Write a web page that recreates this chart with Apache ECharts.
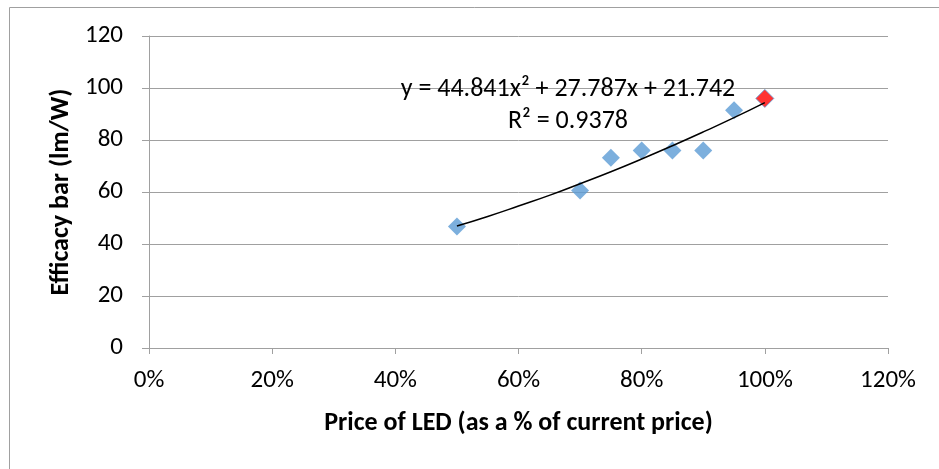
<!DOCTYPE html>
<html><head><meta charset="utf-8">
<script src="https://cdn.jsdelivr.net/npm/echarts@6/dist/echarts.min.js"></script>
<style>html,body{margin:0;padding:0;background:#fff}#c{width:939px;height:469px}</style>
</head><body><div id="c"></div>
<script>
// Data
var priceShare = [0.50, 0.70, 0.75, 0.80, 0.85, 0.90, 0.95];
var efficacy = [46.7, 60.6, 73.2, 76.0, 76.0, 76.0, 91.4];
var currentPrice = [1.00];
var currentEfficacy = [96.0];
var trendX = [0.50, 0.55, 0.60, 0.65, 0.70, 0.75, 0.80, 0.85, 0.90, 0.95, 1.00];
var trendY = [46.9, 50.6, 54.6, 58.7, 63.2, 67.8, 72.7, 77.8, 83.1, 88.6, 94.4];
var xTicks = [0, 0.2, 0.4, 0.6, 0.8, 1.0, 1.2];
var yTicks = [0, 20, 40, 60, 80, 100, 120];
var equationText = 'y = 44.841x\u00B2 + 27.787x + 21.742';
var r2Text = 'R\u00B2 = 0.9378';
var xTitle = 'Price of LED (as a % of current price)';
var yTitle = 'Efficacy bar (lm/W)';

var FONT = 'Carlito, Calibri, "Liberation Sans Narrow", "Open Sans", sans-serif';
function zip(a, b) { return a.map(function (v, i) { return [v, b[i]]; }); }

var chart = echarts.init(document.getElementById('c'), null, {renderer: 'canvas'});
chart.setOption({
  animation: false,
  backgroundColor: '#fff',
  textStyle: {fontFamily: FONT},
  grid: {left: 149, right: 51, top: 36, bottom: 121, containLabel: false},
  xAxis: {
    type: 'value', min: xTicks[0], max: xTicks[xTicks.length - 1], interval: 0.2,
    name: xTitle, nameLocation: 'middle', nameGap: 62,
    nameTextStyle: {fontFamily: FONT, fontSize: 26, fontWeight: 'bold', color: '#000'},
    axisLine: {show: true, lineStyle: {color: '#a0a0a0', width: 1}},
    axisTick: {show: true, length: 6, lineStyle: {color: '#a0a0a0'}},
    axisLabel: {fontFamily: FONT, fontSize: 25, color: '#000', margin: 20,
      formatter: function (v) { return Math.round(v * 100) + '%'; }},
    splitLine: {show: false}
  },
  yAxis: {
    type: 'value', min: yTicks[0], max: yTicks[yTicks.length - 1], interval: 20,
    name: yTitle, nameLocation: 'middle', nameGap: 75, nameRotate: 90,
    nameTextStyle: {fontFamily: FONT, fontSize: 26, fontWeight: 'bold', color: '#000'},
    axisLine: {show: true, lineStyle: {color: '#a0a0a0', width: 1}},
    axisTick: {show: true, length: 7, inside: false, lineStyle: {color: '#a0a0a0'}},
    axisLabel: {fontFamily: FONT, fontSize: 25, color: '#000', margin: 26},
    splitLine: {show: true, lineStyle: {color: '#a0a0a0', width: 1}}
  },
  series: [
    {
      type: 'scatter', data: zip(priceShare, efficacy), symbol: 'diamond', symbolSize: 18,
      itemStyle: {color: '#5B9BD5'}, z: 3
    },
    {
      type: 'scatter', data: zip(currentPrice, currentEfficacy), symbol: 'diamond', symbolSize: 18,
      itemStyle: {color: '#FF0000', borderColor: '#5B9BD5', borderWidth: 1}, z: 3
    },
    {
      type: 'line', data: zip(trendX, trendY), smooth: true, showSymbol: false,
      lineStyle: {color: '#000', width: 1.5}, z: 4
    }
  ],
  graphic: [
    {type: 'rect', shape: {x: 9.5, y: 7.5, width: 2000, height: 2000}, style: {fill: 'none', stroke: '#a0a0a0', lineWidth: 1}, z: -1, silent: true},
    {type: 'text', x: 568, y: 89, style: {text: equationText, font: '26px ' + FONT, fill: '#000', align: 'center', verticalAlign: 'middle'}, z: 10},
    {type: 'text', x: 568, y: 121, style: {text: r2Text, font: '26px ' + FONT, fill: '#000', align: 'center', verticalAlign: 'middle'}, z: 10}
  ]
});
</script></body></html>
